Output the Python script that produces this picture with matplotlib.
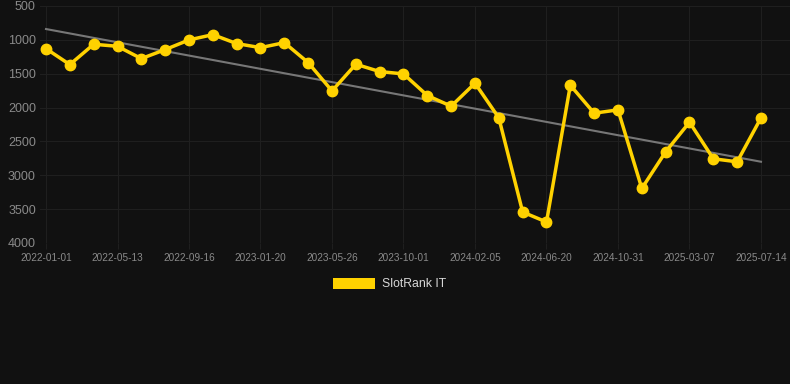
import numpy as np
import matplotlib
matplotlib.use("Agg")
import matplotlib.pyplot as plt

# SlotRank IT, one point roughly every six weeks (category axis)
tick_labels = [
    "2022-01-01", "2022-05-13", "2022-09-16", "2023-01-20", "2023-05-26",
    "2023-10-01", "2024-02-05", "2024-06-20", "2024-10-31", "2025-03-07",
    "2025-07-14",
]
rank = [
    1130, 1365, 1065, 1095, 1277, 1144, 1001, 923, 1055, 1115,
    1041, 1336, 1754, 1360, 1468, 1503, 1822, 1980, 1640, 2152,
    3543, 3690, 1670, 2083, 2034, 3194, 2653, 2216, 2756, 2801,
    2152,
]
trend_ends = [840, 2800]

BG = "#111111"
GRID = "#1f1f1f"
TEXT = "#8a8a8a"
GOLD = "#ffd200"

plt.rcParams["font.family"] = ["Liberation Sans", "DejaVu Sans"]

fig = plt.figure(figsize=(7.9, 3.84), dpi=100, facecolor=BG)
ax = fig.add_axes([40 / 790, 1 - 243 / 384, 750 / 790, 237 / 384], facecolor=BG)

x = np.arange(len(rank))
ax.plot([x[0], x[-1]], trend_ends, color="#777777", lw=1.5, zorder=2)
ax.plot(x, rank, color=GOLD, lw=2.5, marker="o", ms=7.5, zorder=3,
        label="SlotRank IT")

ax.set_ylim(4000, 500)
ax.set_yticks(np.arange(500, 4001, 500))
ax.set_xlim(-6 / 23.83, 30 + 29 / 23.83)
ax.set_xticks(x[::3])
ax.set_xticklabels(tick_labels)

ax.tick_params(axis="y", colors=TEXT, labelsize=9, length=0, pad=3)
ax.tick_params(axis="x", colors=TEXT, labelsize=7.2, length=4, color=GRID, pad=3)
for s in ax.spines.values():
    s.set_visible(False)
ax.grid(True, color=GRID, lw=0.8)
ax.set_axisbelow(True)

leg = fig.legend(
    handles=[plt.Rectangle((0, 0), 1, 1, facecolor=GOLD, edgecolor="none")],
    labels=["SlotRank IT"], loc="center", bbox_to_anchor=(390 / 790, 1 - 284 / 384),
    frameon=False, fontsize=8.8, handlelength=3.4, handleheight=1.0,
    handletextpad=0.6, labelcolor="#d8d8d8",
)

fig.savefig("out.png", dpi=100, facecolor=BG)
